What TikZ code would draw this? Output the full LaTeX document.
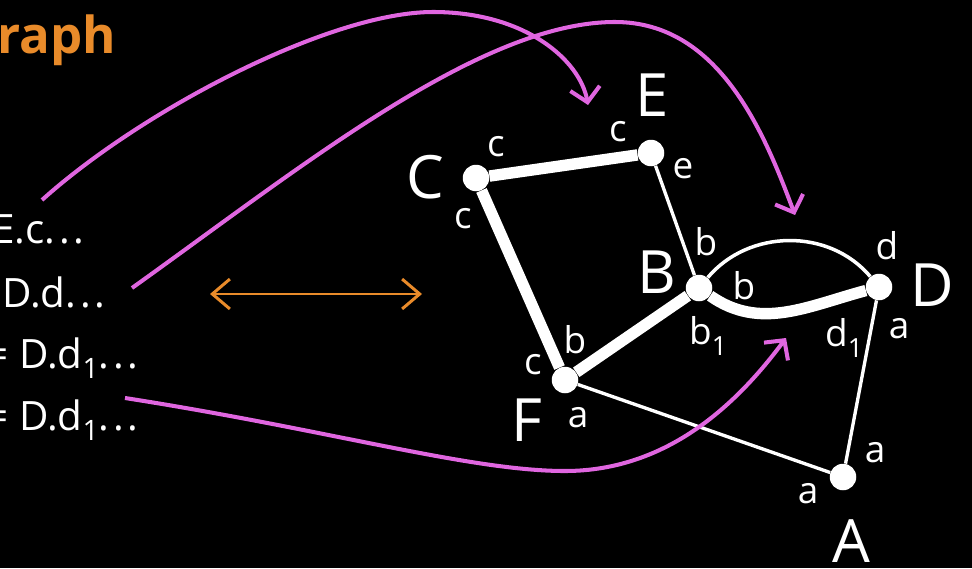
\documentclass[tikz,border=0pt]{standalone}
\usepackage{fontspec}
\setmainfont{Open Sans}
\usepackage{xcolor}
\usetikzlibrary{arrows.meta}
\definecolor{hoppink}{HTML}{E066E0}
\definecolor{headorange}{HTML}{E98B2A}
\newcommand{\subidx}[2][15]{\raisebox{-6pt}{\fontsize{#1}{16}\selectfont #2}}
\newcommand{\gapdots}{.\kern2.2pt.\kern2.2pt.}

\begin{document}
\begin{tikzpicture}[x=0.02cm,y=-0.02cm,
  vert/.style={circle,fill=white,inner sep=0pt,minimum size=0.53cm},
  vname/.style={text=white,inner sep=0pt,font=\fontsize{34}{36}\selectfont},
  port/.style={text=white,inner sep=0pt,font=\fontsize{21}{24}\selectfont},
  eqline/.style={text=white,inner sep=0pt,anchor=base east,font=\fontsize{23}{26}\selectfont},
  heavy/.style={white,line width=6.5pt},
  light/.style={white,line width=1.9pt},
  hop/.style={hoppink,line width=2.3pt,-{Straight Barb[length=8pt,width=17pt]}}]
  \fill[black] (0,0) rectangle (972,568);
  \clip (0,0) rectangle (972,568);
  \node[anchor=base west,inner sep=0pt,text=headorange,font=\fontsize{29}{34}\selectfont\bfseries] (title) at (-3,53) {raph};
  % left column
  \node[eqline] (ln1) at (85,243) {E.c\gapdots};
  \node[eqline] (ln2) at (106,307) {D.d\gapdots};
  \node[eqline] (ln3) at (139,368) {= D.d\subidx[16]{1}\gapdots};
  \node[eqline] (ln4) at (139,430) {= D.d\subidx[16]{1}\gapdots};
  \coordinate (swapL) at (210,294);
  \coordinate (swapR) at (422,294);
  \draw[headorange,line width=1.7pt,{Straight Barb[length=10pt,width=17pt]}-{Straight Barb[length=10pt,width=17pt]}] (swapL) -- (swapR);
  % graph
  \node[vert] (C) at (476,178) {};
  \node[vert] (E) at (651,153) {};
  \node[vert] (B) at (699,288) {};
  \node[vert] (D) at (879,287) {};
  \node[vert] (F) at (565,380) {};
  \node[vert] (A) at (843,477) {};
  \node[vname] (Cname) at (425,177) {C};
  \node[vname] (Ename) at (652,95) {E};
  \node[vname] (Bname) at (657,272) {B};
  \node[vname] (Dname) at (932,285) {D};
  \node[vname] (Fname) at (527,420) {F};
  \node[vname] (Aname) at (851,541) {A};
  \draw[heavy] (C) -- (E);
  \draw[heavy] (C) -- (F);
  \draw[heavy] (F) -- (B);
  \draw[heavy] (B) to[out=-35,in=195] (D);
  \draw[white,line width=2pt] (B) to[out=50,in=130] (D);
  \draw[light] (E) -- (B);
  \draw[light] (F) -- (A);
  \draw[light] (D) -- (A);
  % ports
  \node[port] (Cc1) at (496,147) {c};
  \node[port] (Cc2) at (463,219) {c};
  \node[port] (Ec) at (618,132) {c};
  \node[port] (Ee) at (683,169) {e};
  \node[port] (Bb1) at (706,242) {b};
  \node[port] (Bb2) at (744,286) {b};
  \node[port] (Bb3) at (708,336) {b\subidx{1}};
  \node[port] (Dd1) at (887,246) {d};
  \node[port] (Dd2) at (844,338) {d\subidx{1}};
  \node[port] (Da) at (899,329) {a};
  \node[port] (Fc) at (533,365) {c};
  \node[port] (Fb) at (575,340) {b};
  \node[port] (Fa) at (578,418) {a};
  \node[port] (Aa1) at (875,453) {a};
  \node[port] (Aa2) at (808,494) {a};
  % hops
  \coordinate (hop1s) at (42,200);
  \coordinate (hop1e) at (588,105);
  \coordinate (hop2s) at (132,288);
  \coordinate (hop2e) at (795,215);
  \coordinate (hop3s) at (125,398);
  \coordinate (hop3e) at (786,338);
  \draw[hop] (hop1s) .. controls (142,110) and (330,12) .. (433,12) .. controls (525,12) and (580,60) .. (hop1e);
  \draw[hop] (hop2s) .. controls (300,168) and (480,22) .. (615,22) .. controls (720,22) and (765,135) .. (hop2e);
  \draw[hop] (hop3s) .. controls (330,430) and (470,471) .. (565,471) .. controls (670,471) and (740,400) .. (hop3e);
\end{tikzpicture}
\end{document}
